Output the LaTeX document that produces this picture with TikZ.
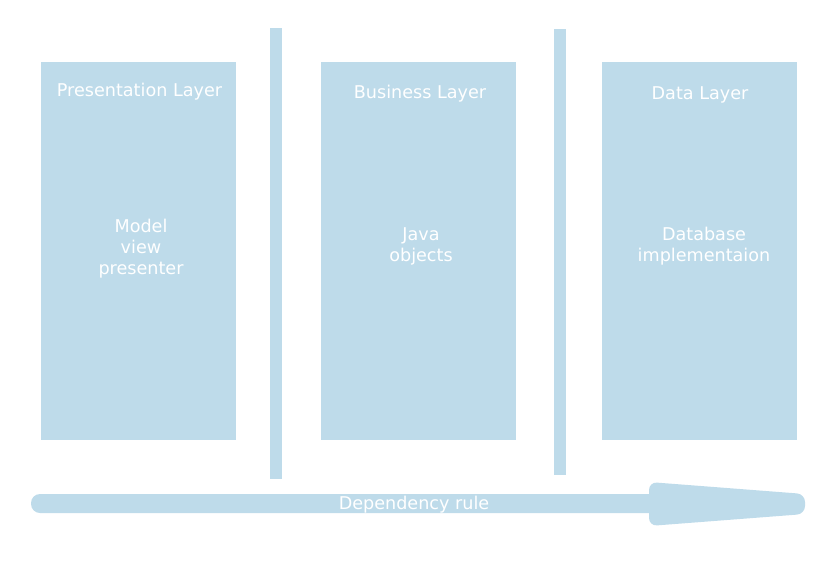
\documentclass[tikz,border=0pt]{standalone}
\usepackage{fontspec}
\setmainfont{DejaVu Sans}
\definecolor{layerblue}{RGB}{190,219,234}
\begin{document}
\begin{tikzpicture}[x=1pt,y=-1pt,
  layerbox/.style={fill=layerblue,draw=none,minimum width=195pt,minimum height=378pt,inner sep=0pt,anchor=north west},
  divider/.style={fill=layerblue,draw=none,minimum width=12pt,inner sep=0pt,anchor=north west},
  labeltext/.style={text=white,font=\fontsize{17.6}{21}\selectfont,align=center,inner sep=0pt}]
  \useasboundingbox (0,0) rectangle (840,560);

  % three layers
  \node[layerbox] (pres) at (41,62) {};
  \node[layerbox] (bus)  at (321,62) {};
  \node[layerbox] (data) at (602,62) {};

  % dividers between layers
  \node[divider,minimum height=451pt] (div1) at (270,28) {};
  \node[divider,minimum height=446pt] (div2) at (554,29) {};

  % layer titles
  \node[labeltext] (presT) at (139.5,92) {Presentation Layer};
  \node[labeltext] (busT)  at (420,94) {Business Layer};
  \node[labeltext] (dataT) at (700,95) {Data Layer};

  % layer contents
  \node[labeltext] (presC) at (141,249) {Model\\view\\presenter};
  \node[labeltext] (busC)  at (421,246) {Java\\objects};
  \node[labeltext] (dataC) at (704,246) {Database\\implementaion};

  % dependency arrow: shaft and head
  \fill[layerblue,rounded corners=9pt] (31,494) rectangle (700,513);
  \fill[layerblue,rounded corners=8pt] (649,482) -- (805,494) -- (805,514) -- (649,526) -- cycle;
  \node[labeltext] (dep) at (414,505) {Dependency rule};
\end{tikzpicture}
\end{document}
